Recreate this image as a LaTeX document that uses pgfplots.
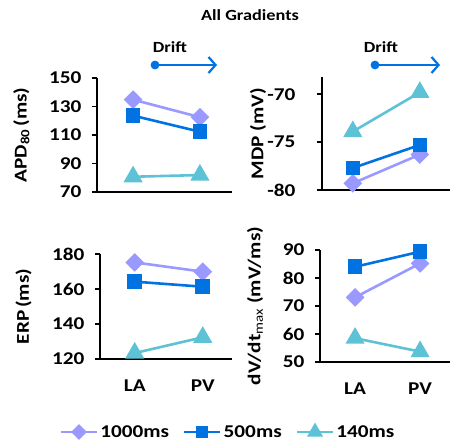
\documentclass[border=0pt]{standalone}
\usepackage{fontspec}
\setmainfont{Carlito}[FakeStretch=1.18]
\usepackage{pgfplots}
\pgfplotsset{compat=1.18}
\usetikzlibrary{arrows.meta}
\definecolor{c1000}{RGB}{153,153,255}
\definecolor{c500}{RGB}{0,114,226}
\definecolor{c140}{RGB}{94,194,214}
\newcommand{\bigf}{\fontsize{18}{19}\selectfont\bfseries}
\pgfplotsset{
  myax/.style={scale only axis, axis x line*=bottom, axis y line*=left,
    axis line style={line width=1.6pt,-}, every tick/.style={black, line width=1.6pt},
    major tick length=5pt, tick align=outside, xtick={0,1}, xticklabels={},
    x tick style={draw=none},
    tick label style={font=\bigf}, yticklabel style={xshift=-7pt},
    /pgf/number format/assume math mode=true,
    ylabel style={font=\bigf, rotate=0, anchor=center}, clip=false},
  s1000/.style={color=c1000, line width=2.6pt, mark=square*, mark size=5.3pt, mark options={solid, rotate=45}},
  s500/.style={color=c500, line width=2.6pt, mark=square*, mark size=6pt, mark options={solid}},
  s140/.style={color=c140, line width=2.6pt, mark=triangle*, mark size=8.5pt, mark options={solid}},
}
\begin{document}
\begin{tikzpicture}
\useasboundingbox (0,0) rectangle (451pt,442pt);
% APD
\begin{axis}[myax, at={(97pt,250pt)}, anchor=south west, width=135pt, height=114pt,
  xmin=-0.54, xmax=1.48, ymin=70, ymax=150, ytick={70,90,110,130,150},
  ylabel={APD\textsubscript{80}\,(ms)}, ylabel style={at={(axis description cs:-0.56,0.5)}}]
\addplot[s1000] coordinates {(0,134.8) (1,122.5)};
\addplot[s500] coordinates {(0,123.6) (1,112.3)};
\addplot[s140] coordinates {(0,80.7) (1,81.9)};
\end{axis}
% MDP
\begin{axis}[myax, at={(322pt,252pt)}, anchor=south west, width=128pt, height=113pt,
  xmin=-0.46, xmax=1.45, ymin=-80, ymax=-68.2, ytick={-80,-75,-70},
  yticklabels={-80,-75,-70}, yticklabel style={xshift=-11pt},
  ylabel={MDP (mV)}, ylabel style={at={(axis description cs:-0.5,0.5)}}]
\addplot[s1000] coordinates {(0,-79.3) (1,-76.3)};
\addplot[s500] coordinates {(0,-77.7) (1,-75.3)};
\addplot[s140] coordinates {(0,-73.9) (1,-69.8)};
\end{axis}
% ERP
\begin{axis}[myax, at={(100pt,83pt)}, anchor=south west, width=132pt, height=105pt,
  xmin=-0.51, xmax=1.43, ymin=120, ymax=180, ytick={120,140,160,180},
  xticklabels={LA,PV}, xticklabel style={yshift=-12pt},
  ylabel={ERP\,(ms)}, ylabel style={at={(axis description cs:-0.58,0.5)}},
  legend style={at={(axis description cs:0.97,-0.695)}, anchor=center, draw=none, fill=none,
    legend columns=3, font=\bigf, /tikz/every even column/.append style={column sep=12pt},
    inner sep=0pt},
  legend image code/.code={\draw[mark repeat=2,mark phase=2,#1,every mark/.append style={scale=0.8}] plot coordinates {(0pt,0pt) (18pt,0pt) (36pt,0pt)};}]
\addplot[s1000] coordinates {(0,175.2) (1,169.9)};
\addplot[s500] coordinates {(0,164.2) (1,161.3)};
\addplot[s140] coordinates {(0,123.4) (1,132.4)};
\legend{1000ms,500ms,140ms}
\end{axis}
% dV/dt
\begin{axis}[myax, at={(320pt,80pt)}, anchor=south west, width=130pt, height=112pt,
  xmin=-0.54, xmax=1.46, ymin=50, ymax=90, ytick={50,60,70,80,90},
  xticklabels={LA,PV}, xticklabel style={yshift=-12pt},
  ylabel={dV/dt\textsubscript{\mdseries max} (mV/ms)}, ylabel style={at={(axis description cs:-0.5,0.5)}}]
\addplot[s1000] coordinates {(0,73.1) (1,85.2)};
\addplot[s500] coordinates {(0,84.0) (1,89.4)};
\addplot[s140] coordinates {(0,58.5) (1,53.7)};
\end{axis}
% title and drift annotations
\node[font=\fontsize{15.5}{16}\selectfont\bfseries] at (250pt,427pt) {All Gradients};
\node[font=\fontsize{15.5}{16}\selectfont\bfseries] at (170pt,395pt) {Drift};
\node[font=\fontsize{15.5}{16}\selectfont\bfseries] at (381pt,395pt) {Drift};
\draw[c500, line width=2.2pt, -{Straight Barb[length=7pt,width=16pt]}] (155pt,377pt) -- (217pt,377pt);
\fill[c500] (155pt,377pt) circle (4.4pt);
\draw[c500, line width=2.2pt, -{Straight Barb[length=7pt,width=16pt]}] (375pt,377pt) -- (440pt,377pt);
\fill[c500] (375pt,377pt) circle (4.4pt);
\end{tikzpicture}
\end{document}
